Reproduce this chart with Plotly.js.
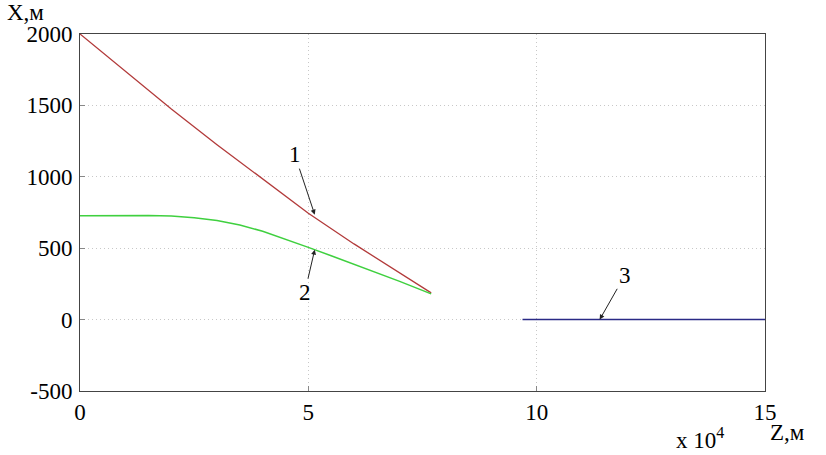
<!DOCTYPE html>
<html>
<head>
<meta charset="utf-8">
<script src="https://cdn.plot.ly/plotly-3.0.1.min.js"></script>
<style>html,body{margin:0;padding:0;background:#fff;}#chart{width:826px;height:455px;}</style>
</head>
<body>
<div id="chart"></div>
<script>
// Z in units of 10^4 m, X in m
const z1 = [0, 1, 2, 3, 4, 5, 6, 7, 7.69];
const x1 = [2000, 1735, 1475, 1225, 985, 745, 530, 325, 187];
const z2 = [0, 1, 1.5, 2, 2.5, 3, 3.5, 4, 4.5, 5, 5.5, 6, 6.5, 7, 7.69];
const x2 = [728, 730, 729, 725, 714, 694, 662, 619, 565, 506, 447, 388, 329, 268, 180];
const z3 = [9.69, 15];
const x3 = [0, 0];
const xTicks = [0, 5, 10, 15];
const yTicks = [-500, 0, 500, 1000, 1500, 2000];

function F(size) { return {family: "Liberation Serif", size: size || 23, color: '#000'}; }
const traces = [
  {x: z1, y: x1, mode: 'lines', line: {color: '#b23a3a', width: 1.3}, hoverinfo: 'skip'},
  {x: z2, y: x2, mode: 'lines', line: {color: '#3fd03f', width: 1.5}, hoverinfo: 'skip'},
  {x: z3, y: x3, mode: 'lines', line: {color: '#2a2a86', width: 1.5}, hoverinfo: 'skip'}
];
function axis(extra) {
  return Object.assign({
    showline: true, mirror: true, linecolor: '#444', linewidth: 1,
    ticks: 'inside', ticklen: 5, tickcolor: '#888',
    showgrid: true, gridcolor: '#c8c8c8', griddash: '1px,3px', gridwidth: 1,
    zeroline: false, tickfont: F()
  }, extra);
}
const layout = {
  width: 826, height: 455,
  margin: {l: 80, r: 61, t: 34, b: 64},
  paper_bgcolor: '#fff', plot_bgcolor: '#fff',
  showlegend: false,
  font: F(),
  xaxis: axis({range: [0, 15], tickvals: xTicks, ticktext: xTicks.map(String)}),
  yaxis: axis({range: [-500, 2000], tickvals: yTicks, ticktext: yTicks.map(String), ticklabelstandoff: 2}),
  annotations: [
    {x: 5.14, y: 735, xref: 'x', yref: 'y', text: '1', showarrow: true, ax: -20, ay: -60,
     arrowhead: 2, arrowsize: 1, arrowwidth: 1, arrowcolor: '#222', font: F()},
    {x: 5.14, y: 490, xref: 'x', yref: 'y', text: '2', showarrow: true, ax: -10, ay: 43,
     arrowhead: 2, arrowsize: 1, arrowwidth: 1, arrowcolor: '#222', font: F()},
    {x: 11.38, y: 0, xref: 'x', yref: 'y', text: '3', showarrow: true, ax: 25, ay: -44,
     arrowhead: 2, arrowsize: 1, arrowwidth: 1, arrowcolor: '#222', font: F()},
    {px: 25, py: 13, text: 'X,м', showarrow: false, font: F(), xanchor: 'center', yanchor: 'middle'},
    {px: 787, py: 432, text: 'Z,м', showarrow: false, font: F(), xanchor: 'center', yanchor: 'middle'},
    {px: 700, py: 438, text: 'x 10<sup>4</sup>', showarrow: false, font: F(), xanchor: 'center', yanchor: 'middle'}
  ]
};
// convert pixel-positioned labels to paper coordinates
const pw = 826 - 80 - 61, ph = 455 - 34 - 64;
layout.annotations.forEach(a => {
  if (a.px !== undefined) {
    a.xref = 'paper'; a.yref = 'paper';
    a.x = (a.px - 80) / pw; a.y = (455 - 64 - a.py) / ph;
    delete a.px; delete a.py;
  }
});
Plotly.newPlot('chart', traces, layout, {staticPlot: true});
</script>
</body>
</html>
